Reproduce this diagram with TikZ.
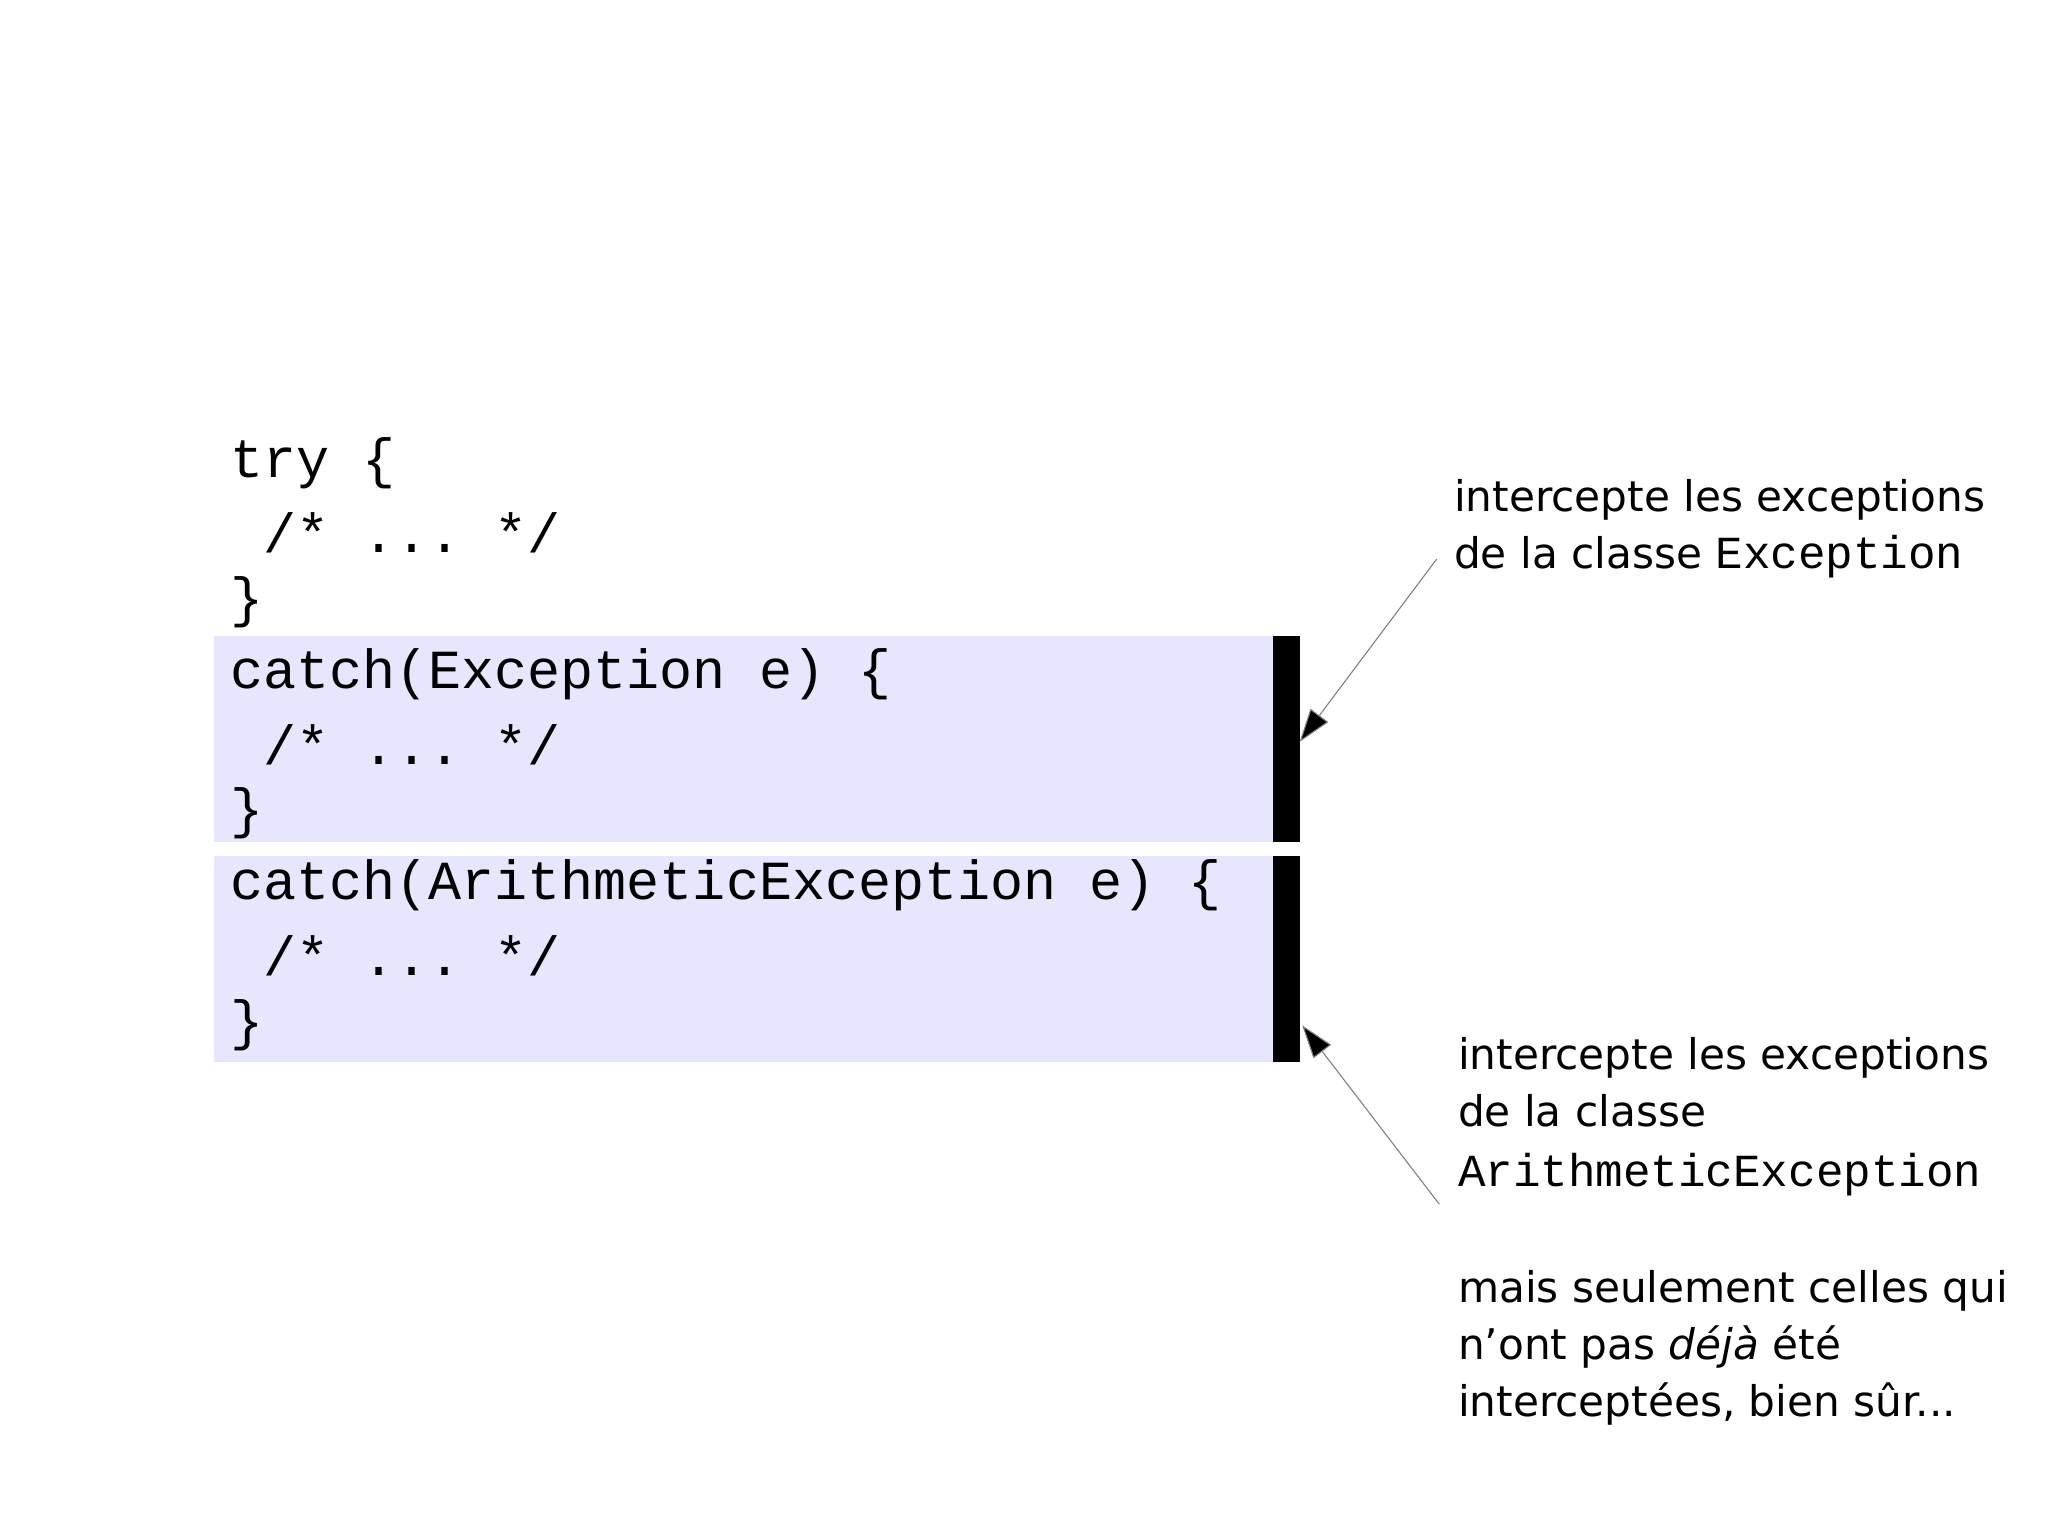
\documentclass[tikz,border=0pt]{standalone}
\usepackage{fontspec}
\setmainfont{DejaVu Sans}
\setmonofont{Liberation Mono}
\usetikzlibrary{arrows.meta}
\begin{document}
\begin{tikzpicture}[x=0.25mm,y=-0.25mm,
  code/.style={anchor=west,inner sep=0,font=\fontsize{30}{36}\selectfont\ttfamily},
  lbl/.style={anchor=west,inner sep=0,align=left,font=\fontsize{23}{31}\selectfont},
  ptr/.style={draw=gray,line width=0.6pt,-{Triangle[length=18pt,width=12pt,fill=black]}}]
\useasboundingbox (0,0) rectangle (1568,1176);
\fill[fill={rgb,255:red,230;green,230;blue,255}] (164,487) rectangle (975,645);
\fill[fill={rgb,255:red,230;green,230;blue,255}] (164,655) rectangle (975,813);
\fill (975,487) rectangle (995,645);
\fill (975,655) rectangle (995,813);
\node[code] (l1) at (176,355) {try \{};
\node[code] at (176,408) {\ /* ... */};
\node[code] at (176,461) {\}};
\node[code] at (176,516) {catch(Exception e) \{};
\node[code] at (176,570) {\ /* ... */};
\node[code] at (176,623) {\}};
\node[code] at (176,678) {catch(ArithmeticException e) \{};
\node[code] at (176,732) {\ /* ... */};
\node[code] at (176,785) {\}};
\coordinate (b1) at (995,568);
\coordinate (b2) at (997,785);
\coordinate (s1) at (1100,428);
\coordinate (s2) at (1102,922);
\node[lbl] (t1) at (1113,405) {intercepte les exceptions\\de la classe {\ttfamily\fontsize{25}{31}\selectfont Exception}};
\node[lbl] (t2) at (1116,855) {intercepte les exceptions\\de la classe\\[2pt]{\ttfamily\fontsize{25}{31}\selectfont ArithmeticException}};
\node[lbl] (t3) at (1116,1032) {mais seulement celles qui\\n'ont pas \textit{déjà} été\\interceptées, bien sûr...};
\draw[ptr] (s1) -- (b1);
\draw[ptr] (s2) -- (b2);
\end{tikzpicture}
\end{document}
